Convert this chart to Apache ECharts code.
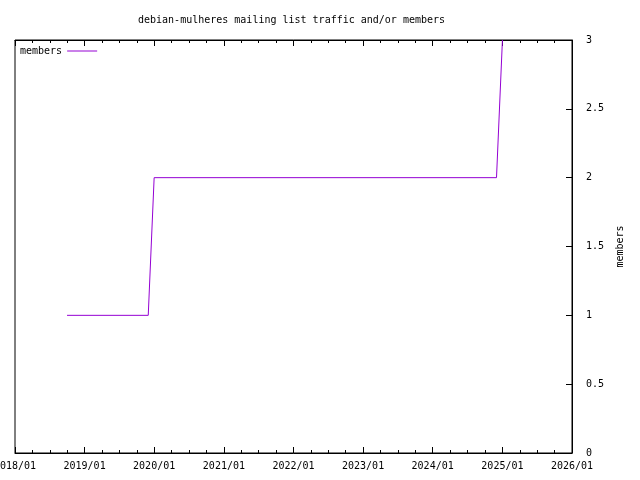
<!DOCTYPE html>
<html>
<head>
<meta charset="utf-8">
<script src="https://cdn.jsdelivr.net/npm/echarts@6/dist/echarts.min.js"></script>
<style>html,body{margin:0;padding:0;background:#fff}#c{width:640px;height:480px}</style>
</head>
<body>
<div id="c"></div>
<script>
var titleText = 'debian-mulheres mailing list traffic and/or members';
var seriesName = 'members';
var dates = ['2018-10-01', '2019-12-01', '2020-01-01', '2024-12-01', '2025-01-01'];
var members = [1, 1, 2, 2, 3];
var xMin = '2018-01-01';
var xMax = '2026-01-01';
var yTicks = [0, 0.5, 1, 1.5, 2, 2.5, 3];

var FONT = 'DejaVu Sans Mono';
var YEAR = 365 * 86400000;
var chart = echarts.init(document.getElementById('c'), null, {renderer: 'canvas'});
var data = dates.map(function (d, i) { return [d, members[i]]; });

function xAxisBase(pos, showLabel) {
  return {
    type: 'time',
    position: pos,
    min: xMin,
    max: xMax,
    minInterval: YEAR,
    maxInterval: YEAR + 86400000,
    axisLine: {show: true, lineStyle: {color: '#000', width: 1}},
    axisTick: {show: true, inside: true, length: 6, lineStyle: {color: '#000'}},
    minorTick: {show: true, splitNumber: 4, length: 3, lineStyle: {color: '#000'}},
    splitLine: {show: false},
    axisLabel: {
      show: showLabel,
      margin: 8,
      fontFamily: FONT,
      fontSize: 10,
      color: '#000',
      showMinLabel: true,
      showMaxLabel: true,
      hideOverlap: false,
      formatter: function (v) {
        var d = new Date(v);
        var m = d.getMonth() + 1;
        return d.getFullYear() + '/' + (m < 10 ? '0' + m : m);
      }
    }
  };
}

chart.setOption({
  animation: false,
  backgroundColor: '#fff',
  title: {
    text: titleText,
    left: 138,
    top: 15,
    padding: 0,
    textStyle: {fontFamily: FONT, fontSize: 10, fontWeight: 'normal', color: '#000'}
  },
  legend: {
    show: true,
    left: 20,
    top: 46,
    padding: 0,
    align: 'right',
    itemWidth: 30,
    itemHeight: 10,
    itemGap: 6,
    textStyle: {fontFamily: FONT, fontSize: 10, color: '#000'},
    data: [{name: seriesName, icon: 'path://M0,5L30,5L30,6L0,6Z'}]
  },
  grid: {
    left: 15, right: 68, top: 40, bottom: 27,
    show: true, borderColor: '#000', borderWidth: 1, backgroundColor: 'transparent',
    containLabel: false,
    outerBoundsMode: 'none'
  },
  xAxis: [xAxisBase('bottom', true), xAxisBase('top', false)],
  yAxis: {
    type: 'value',
    position: 'right',
    min: yTicks[0],
    max: yTicks[yTicks.length - 1],
    interval: yTicks[1] - yTicks[0],
    name: seriesName,
    nameLocation: 'middle',
    nameRotate: 90,
    nameGap: 41,
    nameTextStyle: {fontFamily: FONT, fontSize: 10, color: '#000'},
    axisLine: {show: true, lineStyle: {color: '#000'}},
    axisTick: {show: true, inside: true, length: 6, lineStyle: {color: '#000'}},
    splitLine: {show: false},
    axisLabel: {margin: 14, fontFamily: FONT, fontSize: 10, color: '#000'}
  },
  series: [{
    name: seriesName,
    type: 'line',
    xAxisIndex: 0,
    data: data,
    showSymbol: false,
    symbol: 'none',
    lineStyle: {color: '#9400d3', width: 1},
    itemStyle: {color: '#9400d3'}
  }]
});
</script>
</body>
</html>
